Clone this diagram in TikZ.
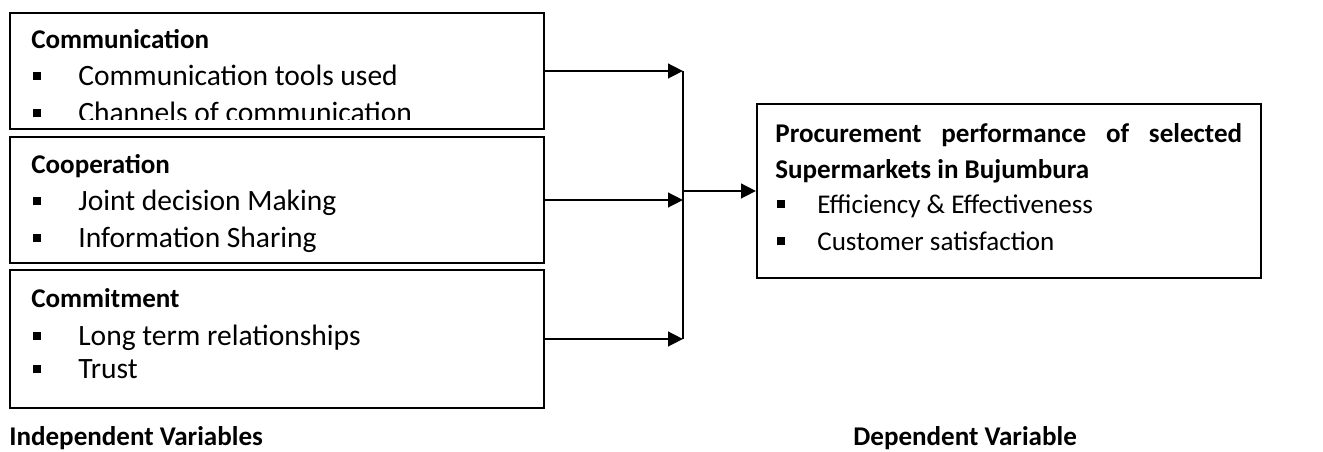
\documentclass[tikz,border=0pt]{standalone}
\usepackage{fontspec}
\setmainfont{Carlito}
\usetikzlibrary{arrows.meta,positioning}
\usetikzlibrary{calc}
% square bullet in front of a list line
\newcommand{\sqbul}[1][0.9cm]{\makebox[#1][l]{\rule[0.1cm]{0.16cm}{0.16cm}}}
\tikzset{
	%Define standard arrow tip
	>={Triangle[length=0.3cm,width=0.29cm]},
	%Define style for boxes
	varbox/.style={
		rectangle,
		draw=black, line width=0.04cm,
		inner sep=0pt,
		anchor=north west},
	%Define style for text lines
	txt/.style={inner sep=0pt, anchor=base west,
		font=\fontsize{16.8pt}{20pt}\selectfont},
	txtr/.style={txt, font=\fontsize{15.4pt}{18pt}\selectfont},
	hd/.style={txt, font=\fontsize{15.4pt}{18pt}\selectfont\bfseries},
	% Define arrow style
	pil/.style={
		->,
		line width=0.055cm},
}
\begin{document}
\begin{tikzpicture}[x=0.02cm,y=-0.02cm]
	\useasboundingbox (0,0) rectangle (1323,451);
	% box Communication
	\node[varbox, minimum width=10.68cm, minimum height=2.32cm] (com) at (9,12) {};
	% box Cooperation
	\node[varbox, minimum width=10.68cm, minimum height=2.52cm] (coop) at (9,136) {};
	% box Commitment
	\node[varbox, minimum width=10.68cm, minimum height=2.76cm] (cmt) at (9,269) {};
	% box Procurement performance
	\node[varbox, minimum width=10.08cm, minimum height=3.48cm] (perf) at (756,103) {};
	% texts of the boxes
	\node[hd] (comhd) at (31,48) {Communication};
	\node[txt] (comA) at (33,85) {\sqbul Communication tools used};
	\begin{scope}
		\clip (com.north west) rectangle ($(com.south east)+(0,-10)$);
		\node[txt] (comB) at (33,122) {\sqbul Channels of communication};
	\end{scope}
	\node[hd] (coophd) at (31,173) {Cooperation};
	\node[txt] (coopA) at (33,210) {\sqbul Joint decision Making};
	\node[txt] (coopB) at (33,247) {\sqbul Information Sharing};
	\node[hd] (cmthd) at (31,307) {Commitment};
	\node[txt] (cmtA) at (33,345) {\sqbul Long term relationships};
	\node[txt] (cmtB) at (33,378) {\sqbul Trust};
	\node[hd] (perfhd) at (775,142) {\makebox[9.34cm][s]{Procurement performance of selected}};
	\node[hd] (perfhdB) at (775,178) {Supermarkets in Bujumbura};
	\node[txtr] (perfA) at (777,213) {\sqbul[0.8cm]Efficiency \& Effectiveness};
	\node[txtr] (perfB) at (777,250) {\sqbul[0.8cm]Customer satisfaction};
	% captions
	\node[hd] (indep) at (9,445) {Independent Variables};
	\node[hd] (dep) at (853,445) {Dependent Variable};
	% arrows
	\coordinate (bus) at (683,0);
	\draw[pil]   (com.east) -- (com.east -| bus);
	\draw[pil]   (coop.east) -- (coop.east -| bus);
	\draw[pil]   (cmt.east) -- (cmt.east -| bus);
	\draw[line width=0.035cm]   (com.east -| bus) -- (cmt.east -| bus);
	\draw[pil]   (perf.west -| bus) -- (perf.west);
\end{tikzpicture}
\end{document}
